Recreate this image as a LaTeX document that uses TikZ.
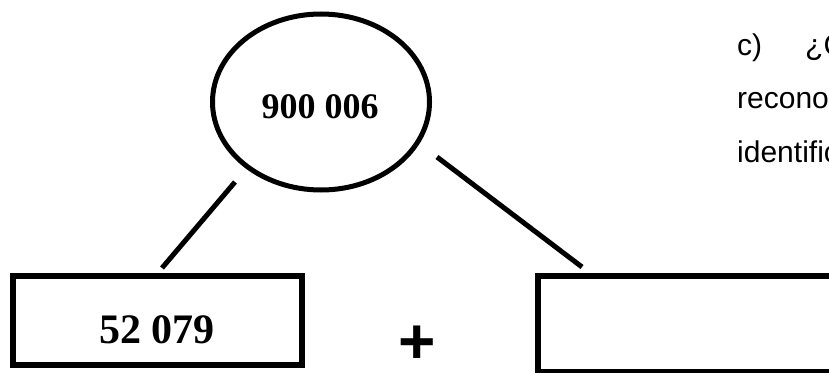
\documentclass[tikz,border=0pt]{standalone}
\usepackage{fontspec}
\setmainfont{Liberation Serif}
\newfontfamily\arialfont{Liberation Sans}
\usetikzlibrary{shapes.geometric}

\tikzset{
  ring/.style={draw, ellipse, line width=5pt, inner sep=0pt,
               minimum width=217pt, minimum height=176pt},
  numbox/.style={draw, rectangle, line width=6pt, inner sep=0pt},
  bignum/.style={font=\bfseries\fontsize{36}{36}\selectfont, inner sep=0pt},
  stem/.style={line width=5pt},
  bodytext/.style={font=\arialfont\fontsize{30}{30}\selectfont, anchor=base west, inner sep=0pt}
}

\begin{document}
\begin{tikzpicture}[x=1pt, y=-1pt]
  \useasboundingbox (0,0) rectangle (829,372);
  \clip (0,0) rectangle (829,372);

  % total at the top
  \node[ring] (sum) at (321,102) {};
  \node[bignum] (sumtext) at (320,107) {900 006};

  % the two addends
  \node[numbox, minimum width=288.5pt, minimum height=89pt] (left) at (157.25,320.5) {};
  \node[bignum, font=\bfseries\fontsize{42}{42}\selectfont] (lefttext) at (157,330) {52 079};
  \node[numbox, minimum width=330pt, minimum height=96pt] (right) at (703,324) {};

  % plus sign between the boxes
  \node[font=\arialfont\bfseries\fontsize{64}{64}\selectfont, anchor=base, inner sep=0pt]
    (plus) at (417,363) {+};

  % connectors from the total down to each box
  \coordinate (sumL) at (235,182);
  \coordinate (leftT) at (162,268);
  \coordinate (sumR) at (437,157);
  \coordinate (rightT) at (582,267);
  \draw[stem] (sumL) -- (leftT);
  \draw[stem] (sumR) -- (rightT);

  % question text at the right margin
  \node[bodytext] (q1) at (737,55) {c)};
  \node[bodytext] (q1b) at (805,55) {¿Cómo};
  \node[bodytext] (q2) at (737,108) {reconociste};
  \node[bodytext] (q3) at (737,162) {identificaste};
\end{tikzpicture}
\end{document}
